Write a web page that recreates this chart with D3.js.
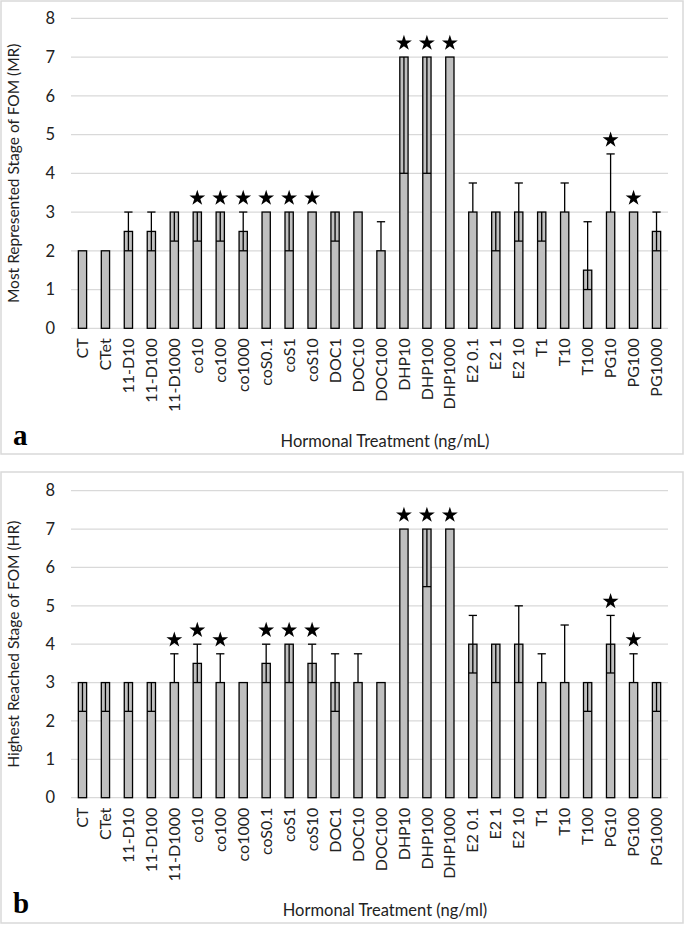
<!DOCTYPE html>
<html>
<head>
<meta charset="utf-8">
<script src="https://cdn.jsdelivr.net/npm/d3@7"></script>
<style>
  body { margin: 0; background: #fff; }
  svg { display: block; }
</style>
</head>
<body>
<div id="chart"></div>
<script>
var categories = ["CT", "CTet", "11-D10", "11-D100", "11-D1000", "co10", "co100", "co1000",
    "coS0.1", "coS1", "coS10", "DOC1", "DOC10", "DOC100", "DHP10", "DHP100", "DHP1000",
    "E2 0.1", "E2 1", "E2 10", "T1", "T10", "T100", "PG10", "PG100", "PG1000"]

// panel a: most represented stage (median with low / high ends of the error bar)
var mrValues = [2, 2, 2.5, 2.5, 3, 3, 3, 2.5, 3, 3, 3, 3, 3, 2, 7, 7, 7, 3, 3, 3, 3, 3, 1.5, 3, 3, 2.5]
var mrLow    = [2, 2, 2, 2, 2.25, 2.25, 2.25, 2, 3, 2, 3, 2.25, 3, 2, 4, 4, 7, 3, 2, 2.25, 2.25, 3, 1, 3, 3, 2]
var mrHigh   = [2, 2, 3, 3, 3, 3, 3, 3, 3, 3, 3, 3, 3, 2.75, 7, 7, 7, 3.75, 3, 3.75, 3, 3.75, 2.75, 4.5, 3, 3]
var mrStars  = ["co10", "co100", "co1000", "coS0.1", "coS1", "coS10", "DHP10", "DHP100", "DHP1000", "PG10", "PG100"]

// panel b: highest reached stage
var hrValues = [3, 3, 3, 3, 3, 3.5, 3, 3, 3.5, 4, 3.5, 3, 3, 3, 7, 7, 7, 4, 4, 4, 3, 3, 3, 4, 3, 3]
var hrLow    = [2.25, 2.25, 2.25, 2.25, 3, 3, 3, 3, 3, 3, 3, 2.25, 3, 3, 7, 5.5, 7, 3.25, 3, 3, 3, 3, 2.25, 3.25, 3, 2.25]
var hrHigh   = [3, 3, 3, 3, 3.75, 4, 3.75, 3, 4, 4, 4, 3.75, 3.75, 3, 7, 7, 7, 4.75, 4, 5, 3.75, 4.5, 3, 4.75, 3.75, 3]
var hrStars  = ["11-D1000", "co10", "co100", "coS0.1", "coS1", "coS10", "DHP10", "DHP100", "DHP1000", "PG10", "PG100"]

var yTicks = [0, 1, 2, 3, 4, 5, 6, 7, 8]

var font = "Lato, 'Open Sans', sans-serif"

var svg = d3.select("#chart")
    .append("svg")
    .attr("width", 685)
    .attr("height", 925)

var x = d3.scaleBand()
    .domain(categories)
    .range([71, 668])
    .padding(0)

function drawPanel(opts) {
    var g = svg.append("g")

    g.append("rect")
        .attr("x", 1)
        .attr("y", opts.frameTop)
        .attr("width", 682)
        .attr("height", opts.frameBottom - opts.frameTop)
        .attr("fill", "#fff")
        .attr("stroke", "#d9d9d9")
        .attr("stroke-width", 1.5)

    var y = d3.scaleLinear()
        .domain([0, 8])
        .range([opts.plotBottom, opts.plotTop])

    // gridlines
    g.append("g")
        .selectAll("line")
        .data(yTicks)
        .join("line")
        .attr("x1", 71)
        .attr("x2", 668)
        .attr("y1", d => y(d))
        .attr("y2", d => y(d))
        .attr("stroke", "#d9d9d9")
        .attr("stroke-width", 1.3)

    var yAxis = g.append("g")
        .attr("transform", "translate(71,0)")
        .call(d3.axisLeft(y).tickValues(yTicks).tickSize(0).tickPadding(16))
    yAxis.select(".domain").remove()
    yAxis.selectAll("text")
        .attr("font-family", font)
        .attr("font-size", 16.5)
        .attr("fill", "#222")

    var xAxis = g.append("g")
        .attr("transform", "translate(0," + opts.plotBottom + ")")
        .call(d3.axisBottom(x).tickSize(0))
    xAxis.select(".domain").remove()
    xAxis.selectAll("text")
        .attr("transform", "rotate(-90)")
        .attr("text-anchor", "end")
        .attr("x", -10)
        .attr("y", 0)
        .attr("dy", "0.35em")
        .attr("font-family", font)
        .attr("font-size", 16)
        .attr("fill", "#222")

    var rows = categories.map(function(c, i) {
        return {name: c, value: opts.values[i], low: opts.low[i], high: opts.high[i]}
    })

    var bw = x.bandwidth() * 0.36
    var cx = d => x(d.name) + x.bandwidth() / 2

    g.append("g")
        .selectAll("rect")
        .data(rows)
        .join("rect")
        .attr("x", d => cx(d) - bw / 2)
        .attr("y", d => y(d.value))
        .attr("width", bw)
        .attr("height", d => y(0) - y(d.value))
        .attr("fill", "#bfbfbf")
        .attr("stroke", "#000")
        .attr("stroke-width", 1.3)

    var errs = g.append("g")
        .attr("stroke", "#000")
        .attr("stroke-width", 1.3)
        .selectAll("g")
        .data(rows.filter(d => d.low < d.value || d.high > d.value))
        .join("g")

    errs.append("line")
        .attr("x1", cx).attr("x2", cx)
        .attr("y1", d => y(d.low))
        .attr("y2", d => y(d.high))
    errs.filter(d => d.high > d.value).append("line")
        .attr("x1", d => cx(d) - bw / 2).attr("x2", d => cx(d) + bw / 2)
        .attr("y1", d => y(d.high)).attr("y2", d => y(d.high))
    errs.filter(d => d.low < d.value).append("line")
        .attr("x1", d => cx(d) - bw / 2).attr("x2", d => cx(d) + bw / 2)
        .attr("y1", d => y(d.low)).attr("y2", d => y(d.low))

    g.append("g")
        .selectAll("path")
        .data(rows.filter(d => opts.stars.indexOf(d.name) >= 0))
        .join("path")
        .attr("d", d3.symbol(d3.symbolStar).size(78))
        .attr("transform", d => "translate(" + cx(d) + "," + (y(Math.max(d.value, d.high)) - 14) + ")")
        .attr("fill", "#000")

    g.append("text")
        .attr("transform", "translate(14," + (opts.plotTop + opts.plotBottom) / 2 + ") rotate(-90)")
        .attr("text-anchor", "middle")
        .attr("dy", "0.35em")
        .attr("font-family", font)
        .attr("font-size", 15.5)
        .attr("fill", "#222")
        .text(opts.yTitle)

    g.append("text")
        .attr("x", 385)
        .attr("y", opts.titleBase)
        .attr("text-anchor", "middle")
        .attr("font-family", font)
        .attr("font-size", 16.5)
        .attr("fill", "#222")
        .text(opts.xTitle)

    g.append("text")
        .attr("x", 13)
        .attr("y", opts.letterBase)
        .attr("font-family", "'Liberation Serif', 'DejaVu Serif', serif")
        .attr("font-weight", "bold")
        .attr("font-size", 29)
        .attr("fill", "#000")
        .text(opts.letter)
}

drawPanel({
    frameTop: 1, frameBottom: 454,
    plotTop: 18.3, plotBottom: 328.3,
    values: mrValues, low: mrLow, high: mrHigh, stars: mrStars,
    yTitle: "Most Represented Stage of FOM (MR)",
    xTitle: "Hormonal Treatment (ng/mL)",
    titleBase: 447, letterBase: 445, letter: "a"
})

drawPanel({
    frameTop: 472, frameBottom: 923,
    plotTop: 490.7, plotBottom: 797.7,
    values: hrValues, low: hrLow, high: hrHigh, stars: hrStars,
    yTitle: "Highest Reached Stage of FOM (HR)",
    xTitle: "Hormonal Treatment (ng/ml)",
    titleBase: 916, letterBase: 913, letter: "b"
})
</script>
</body>
</html>
